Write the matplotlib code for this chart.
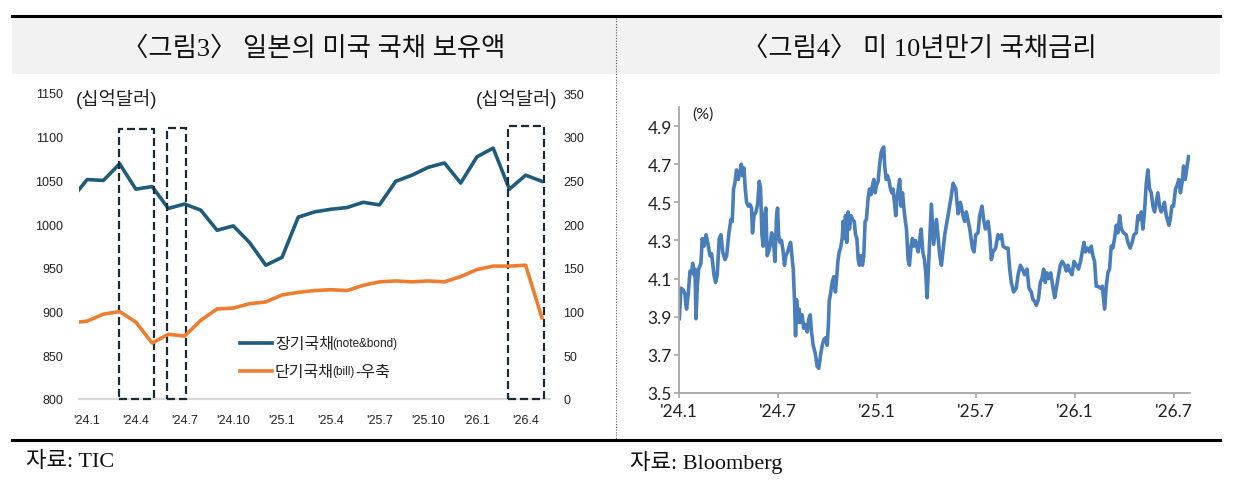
import matplotlib
matplotlib.use('Agg')
import matplotlib.pyplot as plt
from matplotlib.patches import Rectangle
from matplotlib.lines import Line2D
import numpy as np

plt.rcParams['font.family'] = ['Liberation Sans', 'Noto Sans CJK KR']

# ---------------- Figure 3: Japan's holdings of US Treasuries (bn USD) ----------------
months = ["'23.12", "'24.1", "'24.2", "'24.3", "'24.4", "'24.5", "'24.6", "'24.7", "'24.8",
          "'24.9", "'24.10", "'24.11", "'24.12", "'25.1", "'25.2", "'25.3", "'25.4", "'25.5",
          "'25.6", "'25.7", "'25.8", "'25.9", "'25.10", "'25.11", "'25.12", "'26.1", "'26.2",
          "'26.3", "'26.4", "'26.5"]
long_term = [1028, 1051, 1050, 1069, 1040, 1043, 1018, 1023, 1016, 993, 998, 979, 953, 962,
             1008, 1014, 1017, 1019, 1025, 1022, 1049, 1056, 1065, 1070, 1047, 1077, 1087,
             1040, 1056, 1049]
short_term = [87, 89, 97, 100, 88, 64, 74, 72, 90, 103, 104, 109, 111, 119, 122, 124, 125,
              124, 130, 134, 135, 134, 135, 134, 140, 148, 152, 152, 153, 93]
left_xticklabels = ["'24.1", "'24.4", "'24.7", "'24.10", "'25.1", "'25.4", "'25.7", "'25.10",
                    "'26.1", "'26.4"]
# highlighted periods (start month, end month, box top on left axis)
highlight_start = ["'24.3", "'24.6", "'26.3"]
highlight_end = ["'24.5", "'24.7", "'26.5"]
highlight_top = [1109, 1110, 1112]

# ---------------- Figure 4: US 10Y Treasury yield (%) ----------------
# x: months elapsed since Jan 2024
yield_month = [
    0.02, 0.12, 0.26, 0.36, 0.42, 0.46, 0.57, 0.67, 0.77, 0.83,
    0.91, 0.97, 1.03, 1.11, 1.19, 1.33, 1.41, 1.52, 1.64, 1.74,
    1.88, 1.98, 2.12, 2.22, 2.32, 2.44, 2.55, 2.65, 2.79, 2.89,
    3.03, 3.15, 3.23, 3.31, 3.39, 3.49, 3.60, 3.70, 3.78, 3.86,
    3.94, 4.02, 4.10, 4.20, 4.30, 4.40, 4.46, 4.55, 4.67, 4.77,
    4.87, 4.95, 5.03, 5.11, 5.19, 5.27, 5.35, 5.43, 5.52, 5.62,
    5.72, 5.82, 5.92, 5.98, 6.04, 6.12, 6.22, 6.32, 6.40, 6.48,
    6.59, 6.69, 6.77, 6.85, 6.93, 7.01, 7.07, 7.13, 7.23, 7.29,
    7.37, 7.47, 7.56, 7.66, 7.78, 7.88, 7.96, 8.04, 8.14, 8.26,
    8.38, 8.48, 8.59, 8.69, 8.79, 8.89, 8.99, 9.07, 9.11, 9.21,
    9.29, 9.39, 9.49, 9.56, 9.64, 9.72, 9.80, 9.90, 9.96, 10.04,
    10.10, 10.18, 10.26, 10.34, 10.44, 10.53, 10.63, 10.71, 10.79, 10.87,
    10.95, 11.03, 11.13, 11.21, 11.29, 11.37, 11.47, 11.56, 11.64, 11.74,
    11.82, 11.90, 11.98, 12.08, 12.16, 12.26, 12.34, 12.42, 12.48, 12.57,
    12.65, 12.75, 12.83, 12.91, 12.99, 13.09, 13.15, 13.23, 13.33, 13.39,
    13.47, 13.56, 13.64, 13.72, 13.80, 13.90, 13.98, 14.08, 14.16, 14.24,
    14.34, 14.42, 14.51, 14.61, 14.69, 14.79, 14.89, 14.97, 15.05,
    15.31, 15.45, 15.62, 15.82, 15.92, 16.12, 16.32, 16.53, 16.63, 16.79,
    16.93, 17.07, 17.23, 17.33, 17.43, 17.64, 17.80, 17.90, 18.00, 18.14,
    18.24, 18.38, 18.48, 18.59, 18.75, 18.85, 18.95, 19.05, 19.21, 19.35,
    19.45, 19.56, 19.66, 19.82, 19.96, 20.06, 20.16, 20.30, 20.46, 20.57,
    20.71, 20.83, 20.97, 21.11, 21.23, 21.37, 21.47, 21.58, 21.68, 21.80,
    21.92, 22.02, 22.12, 22.22, 22.32, 22.42, 22.55, 22.69, 22.79, 22.89,
    22.99, 23.13, 23.25, 23.39, 23.49, 23.60, 23.70, 23.84, 23.96, 24.10,
    24.24, 24.36, 24.46, 24.57, 24.65, 24.77, 24.91, 25.01, 25.11, 25.21,
    25.31, 25.41, 25.56, 25.68, 25.82, 25.92, 26.02, 26.12, 26.22, 26.32,
    26.42, 26.53, 26.63, 26.73, 26.83, 26.97, 27.13, 27.23, 27.37, 27.49,
    27.60, 27.74, 27.84, 27.94, 28.04, 28.14, 28.24, 28.34, 28.44, 28.55,
    28.65, 28.75, 28.85, 28.95, 29.05, 29.15, 29.25, 29.35, 29.45, 29.56,
    29.72, 29.80, 29.90, 30.00, 30.12, 30.22, 30.32, 30.42, 30.53, 30.61,
    30.71, 30.81, 30.91]
yield_pct = [
    3.89, 4.05, 4.04, 4.02, 3.96, 3.94, 4.03, 4.14, 4.13, 4.18,
    4.12, 4.15, 3.89, 4.06, 4.15, 4.18, 4.31, 4.27, 4.33, 4.29,
    4.22, 4.23, 4.12, 4.08, 4.12, 4.31, 4.33, 4.24, 4.20, 4.22,
    4.34, 4.41, 4.40, 4.57, 4.60, 4.67, 4.62, 4.66, 4.70, 4.64,
    4.68, 4.57, 4.50, 4.48, 4.49, 4.47, 4.34, 4.43, 4.45, 4.49,
    4.61, 4.57, 4.33, 4.27, 4.43, 4.47, 4.22, 4.24, 4.27, 4.34,
    4.31, 4.19, 4.43, 4.47, 4.33, 4.29, 4.30, 4.24, 4.17, 4.22,
    4.24, 4.27, 4.29, 4.22, 4.15, 3.98, 3.80, 3.99, 3.87, 3.94,
    3.87, 3.91, 3.84, 3.86, 3.82, 3.89, 3.91, 3.82, 3.75, 3.71,
    3.64, 3.63, 3.70, 3.75, 3.78, 3.79, 3.75, 3.87, 3.98, 4.03,
    4.08, 4.11, 4.03, 4.10, 4.19, 4.24, 4.26, 4.31, 4.40, 4.31,
    4.43, 4.29, 4.45, 4.36, 4.43, 4.41, 4.40, 4.33, 4.31, 4.20,
    4.17, 4.22, 4.17, 4.22, 4.40, 4.41, 4.52, 4.57, 4.54, 4.59,
    4.62, 4.55, 4.59, 4.61, 4.69, 4.76, 4.78, 4.79, 4.69, 4.62,
    4.64, 4.61, 4.57, 4.55, 4.57, 4.48, 4.43, 4.52, 4.59, 4.62,
    4.48, 4.55, 4.47, 4.41, 4.36, 4.20, 4.17, 4.27, 4.31, 4.27,
    4.30, 4.27, 4.24, 4.31, 4.36, 4.24, 4.20, 4.13, 4.00,
    4.49, 4.28, 4.41, 4.22, 4.17, 4.33, 4.43, 4.54, 4.60, 4.57,
    4.44, 4.50, 4.43, 4.40, 4.45, 4.36, 4.26, 4.24, 4.33, 4.34,
    4.43, 4.48, 4.41, 4.36, 4.40, 4.33, 4.20, 4.24, 4.26, 4.33,
    4.31, 4.33, 4.27, 4.26, 4.26, 4.15, 4.08, 4.03, 4.05, 4.12,
    4.17, 4.15, 4.12, 4.15, 4.05, 4.03, 3.99, 3.98, 3.96, 3.99,
    4.08, 4.10, 4.15, 4.08, 4.13, 4.10, 4.13, 4.05, 4.00, 4.05,
    4.10, 4.17, 4.19, 4.17, 4.14, 4.17, 4.14, 4.12, 4.19, 4.17,
    4.15, 4.19, 4.24, 4.29, 4.24, 4.26, 4.24, 4.27, 4.22, 4.19,
    4.06, 4.06, 4.05, 4.06, 3.94, 4.06, 4.13, 4.15, 4.27, 4.26,
    4.31, 4.38, 4.34, 4.43, 4.36, 4.34, 4.33, 4.29, 4.26, 4.29,
    4.33, 4.34, 4.43, 4.41, 4.45, 4.36, 4.45, 4.59, 4.67, 4.57,
    4.55, 4.48, 4.45, 4.50, 4.55, 4.48, 4.45, 4.47, 4.50, 4.43,
    4.38, 4.41, 4.48, 4.48, 4.57, 4.59, 4.62, 4.55, 4.61, 4.69,
    4.62, 4.68, 4.74]
right_xticks = [0, 6, 12, 18, 24, 30]
right_xticklabels = ["'24.1", "'24.7", "'25.1", "'25.7", "'26.1", "'26.7"]

# ---------------- layout helpers ----------------
W, H = 1233, 485
fig = plt.figure(figsize=(W / 100, H / 100), dpi=100)
fig.patch.set_facecolor('white')


def box(l, t, r, b):
    return [l / W, 1 - b / H, (r - l) / W, (b - t) / H]


def fx(px):
    return px / W


def fy(py):
    return 1 - py / H


SERIF_KR = ['Liberation Serif', 'Noto Sans CJK KR']
SANS_KR = ['Liberation Sans', 'Noto Sans CJK KR']
BLUE = '#1f5b7a'
ORANGE = '#ed7d31'
YBLUE = '#4a7ebb'

# header band + rules
fig.add_artist(Rectangle((fx(12), fy(75)), fx(1220) - fx(12), fy(19) - fy(75),
                         transform=fig.transFigure, facecolor='#f2f2f2', edgecolor='none', zorder=0))
fig.add_artist(Line2D([fx(12), fx(1220)], [fy(17), fy(17)], transform=fig.transFigure,
                      color='black', lw=2.2))
fig.add_artist(Line2D([fx(12), fx(1220)], [fy(441), fy(441)], transform=fig.transFigure,
                      color='black', lw=2.2))
fig.add_artist(Line2D([fx(616), fx(616)], [fy(19), fy(440)], transform=fig.transFigure,
                      color='#555555', lw=0.8, ls=(0, (1, 1.5))))

fig.text(fx(314), fy(48), '〈그림3〉 일본의 미국 국채 보유액', ha='center', va='center',
         fontsize=19, family=SERIF_KR, color='#111111')
fig.text(fx(919), fy(48), '〈그림4〉 미 10년만기 국채금리', ha='center', va='center',
         fontsize=19, family=SERIF_KR, color='#111111')
fig.text(fx(26), fy(462), '자료: TIC', ha='left', va='center', fontsize=16,
         family=SERIF_KR, color='#111111')
fig.text(fx(630), fy(462), '자료: Bloomberg', ha='left', va='center', fontsize=16,
         family=SERIF_KR, color='#111111')

# ---------------- left chart ----------------
ax = fig.add_axes(box(79, 94, 550, 400))
x = np.arange(len(months))
ax.plot(x, long_term, color=BLUE, lw=2.6, zorder=3)
ax.set_xlim(0.5, len(months) - 0.5)
ax.set_ylim(800, 1150)
ax.set_yticks(np.arange(800, 1151, 50))
ax.set_xticks([months.index(m) for m in left_xticklabels])
ax.set_xticklabels(left_xticklabels)
for s in ['top', 'right', 'left']:
    ax.spines[s].set_visible(False)
ax.spines['bottom'].set_color('#d9d9d9')
ax.spines['bottom'].set_linewidth(1.6)
ax.tick_params(axis='y', length=0, pad=11.5, labelsize=9, labelcolor='#222222')
ax.tick_params(axis='x', length=0, pad=10.5, labelsize=9, labelcolor='#222222')

for s0, s1, top in zip(highlight_start, highlight_end, highlight_top):
    i0 = months.index(s0) - 0.06
    i1 = months.index(s1) + 0.1
    ax.add_patch(Rectangle((i0, 800), i1 - i0, top - 800,
                           fill=False, edgecolor='#1a2b36', lw=1.6, ls=(0, (3.6, 1.8)),
                           clip_on=False, zorder=6))

ax2 = ax.twinx()
ax2.plot(x, short_term, color=ORANGE, lw=2.6, zorder=3)
ax2.set_ylim(0, 350)
ax2.set_yticks(np.arange(0, 351, 50))
for s in ax2.spines.values():
    s.set_visible(False)
ax2.tick_params(axis='y', length=0, pad=9.5, labelsize=9, labelcolor='#222222')

fig.text(fx(76), fy(99), '(십억달러)', ha='left', va='center', fontsize=13.5,
         family=SANS_KR, color='#222222')
fig.text(fx(557), fy(99), '(십억달러)', ha='right', va='center', fontsize=13.5,
         family=SANS_KR, color='#222222')

# legend (manual)
legend_items = [('장기국채', '(note&bond)', '', BLUE, 344),
                ('단기국채', '(bill)', '-우축', ORANGE, 372)]
for kr, en, tail, col, yy in legend_items:
    fig.add_artist(Line2D([fx(240), fx(272)], [fy(yy), fy(yy)], transform=fig.transFigure,
                          color=col, lw=2.6))
    t1 = fig.text(fx(275), fy(yy), kr, ha='left', va='center', fontsize=11.5,
                  family=SANS_KR, color='#222222')
    t2 = ax.annotate(en, xy=(1, 0.12), xycoords=t1, xytext=(-1, 0), textcoords='offset points',
                     ha='left', va='bottom', fontsize=8.5,
                     family=SANS_KR, color='#222222', annotation_clip=False)
    if tail:
        ax.annotate(tail, xy=(1, -0.15), xycoords=t2, xytext=(0.3, 0), textcoords='offset points',
                    ha='left', va='bottom', fontsize=11.5,
                    family=SANS_KR, color='#222222', annotation_clip=False)

# ---------------- right chart ----------------
axr = fig.add_axes(box(679, 108, 1190, 394))
axr.plot(yield_month, yield_pct, color=YBLUE, lw=2.6, solid_joinstyle='round')
axr.set_xlim(0, 31)
axr.set_ylim(3.5, 5.0)
yt = np.arange(3.5, 4.95, 0.2)
axr.set_yticks(yt)
axr.set_yticklabels([f'{v:.1f}' for v in yt], fontfamily='Lato')
axr.set_xticks(right_xticks)
axr.set_xticklabels(right_xticklabels, fontfamily='Lato')
for s in ['top', 'right']:
    axr.spines[s].set_visible(False)
for s in ['left', 'bottom']:
    axr.spines[s].set_color('#a6a6a6')
    axr.spines[s].set_linewidth(1.3)
axr.tick_params(axis='both', direction='out', length=3.5, width=1.2, color='#a6a6a6',
                labelsize=12.5, labelcolor='#222222')
axr.tick_params(axis='y', pad=1.5)
axr.tick_params(axis='x', pad=4)
fig.text(fx(692), fy(115), '(%)', ha='left', va='center', fontsize=11.5,
         family=['Lato'], color='#222222')

fig.savefig('out.png', dpi=100)
